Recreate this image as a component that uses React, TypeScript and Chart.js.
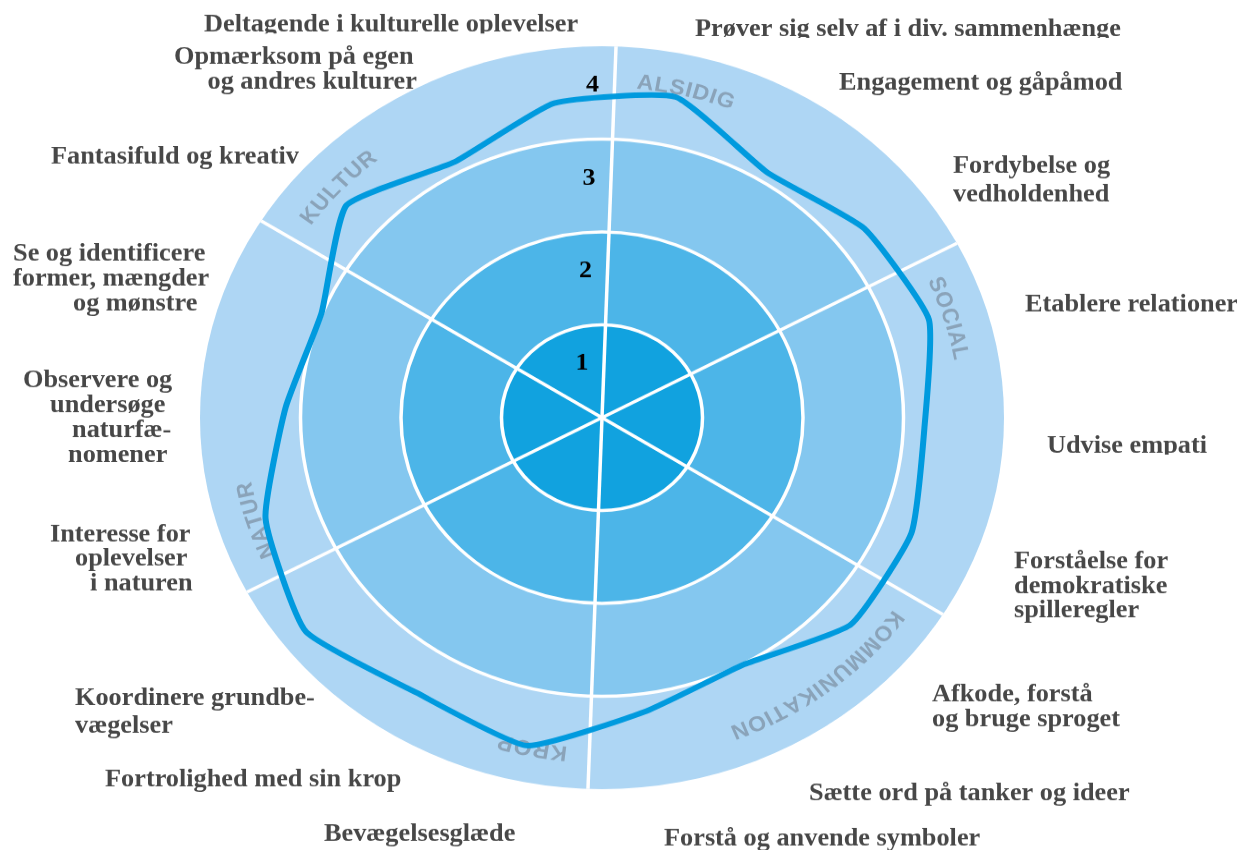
import React, { useEffect, useRef } from "react";
import { Chart, registerables } from "chart.js";

Chart.register(...registerables);

// ---------------- data ----------------
const ITEM_LABELS: string[][] = [
  ["Prøver sig selv af i div. sammenhænge"],
  ["Engagement og gåpåmod"],
  ["Fordybelse og", "vedholdenhed"],
  ["Etablere relationer"],
  ["Udvise empati"],
  ["Forståelse for", "demokratiske", "spilleregler"],
  ["Afkode, forstå", "og bruge sproget"],
  ["Sætte ord på tanker og ideer"],
  ["Forstå og anvende symboler"],
  ["Bevægelsesglæde"],
  ["Fortrolighed med sin krop"],
  ["Koordinere grundbe-", "vægelser"],
  ["Interesse for", "oplevelser", "i naturen"],
  ["Observere og", "undersøge", "naturfæ-", "nomener"],
  ["Se og identificere", "former, mængder", "og mønstre"],
  ["Fantasifuld og kreativ"],
  ["Opmærksom på egen", "og andres kulturer"],
  ["Deltagende i kulturelle oplevelser"],
];

const ITEM_VALUES: number[] = [
  3.53, 3.11, 3.31, 3.42, 3.21, 3.32, 3.33, 3.01, 3.19,
  3.61, 3.49, 3.74, 3.52, 3.15, 3.01, 3.42, 3.12, 3.42,
];

const SECTOR_NAMES: string[] = ["ALSIDIG", "SOCIAL", "KOMMUNIKATION", "KROP", "NATUR", "KULTUR"];

const LEVEL_TICKS: string[] = ["1", "2", "3", "4"];

// ---------------- layout & style ----------------
const W = 1237;
const H = 920;
const SQ = 0.924; // vertical squash of the whole picture
const REF_CX = 602;
const REF_CY = 417.5;
const START_ANGLE = 12;

// label line anchors (left x, baseline y) in page pixels
const LABEL_POS: [number, number][][] = [
  [[695, 36]],
  [[839, 89.3]],
  [[953, 172.7], [953, 201.7]],
  [[1025, 311.7]],
  [[1047, 452.7]],
  [[1014, 567.7], [1014, 592.7], [1014, 616.7]],
  [[932, 701], [932, 726]],
  [[809, 800]],
  [[664, 845]],
  [[324, 841]],
  [[105, 786]],
  [[75, 705], [75, 733]],
  [[50, 541], [75, 565], [90, 590]],
  [[23, 386.7], [50, 411.7], [72, 436.7], [68, 461.7]],
  [[13, 260], [13, 285], [73, 310]],
  [[51, 163.3]],
  [[174, 63.3], [207.5, 88.3]],
  [[204, 31.7]],
];
const CLIPPED_LABELS = [0, 4, 17];

const RING_COLORS = ["#11a2df", "#4cb5e8", "#84c7ef", "#aed6f4"];
const LINE_COLOR = "#009ade";
const SECTOR_COLOR = "#8aa3b9";
const ITEM_COLOR = "#474747";
const ITEM_FONT = "bold 26.3px 'Liberation Serif', 'Times New Roman', serif";
const LEVEL_FONT = "bold 26px 'Liberation Serif', 'Times New Roman', serif";
const SECTOR_FONT = "bold 23px 'Liberation Sans', Arial, sans-serif";

const deg = (d: number) => (d * Math.PI) / 180;

const decorPlugin = {
  id: "decor",
  beforeDraw(chart: any) {
    const s = chart.scales.r;
    const ctx = chart.ctx as CanvasRenderingContext2D;
    ctx.save();
    for (let v = LEVEL_TICKS.length; v >= 1; v--) {
      ctx.beginPath();
      ctx.arc(s.xCenter, s.yCenter, s.getDistanceFromCenterForValue(v), 0, Math.PI * 2);
      ctx.fillStyle = RING_COLORS[v - 1];
      ctx.fill();
    }
    ctx.restore();
  },
  beforeDatasetsDraw(chart: any) {
    const s = chart.scales.r;
    const ctx = chart.ctx as CanvasRenderingContext2D;
    const per = ITEM_VALUES.length / SECTOR_NAMES.length;
    const outer = s.getDistanceFromCenterForValue(LEVEL_TICKS.length);
    ctx.save();
    // sector dividers
    ctx.strokeStyle = "#ffffff";
    ctx.lineWidth = 3.5;
    for (let k = 0; k < SECTOR_NAMES.length; k++) {
      const p = s.getPointPosition(k * per - 0.5, outer);
      ctx.beginPath();
      ctx.moveTo(s.xCenter, s.yCenter);
      ctx.lineTo(p.x, p.y);
      ctx.stroke();
    }
    // sector names along the outer band
    ctx.font = SECTOR_FONT;
    ctx.fillStyle = SECTOR_COLOR;
    ctx.textAlign = "center";
    ctx.textBaseline = "alphabetic";
    const r = s.getDistanceFromCenterForValue(3.56);
    const spacing = 0.8;
    for (let k = 0; k < SECTOR_NAMES.length; k++) {
      let a = s.getIndexAngle(k * per - 0.5) + deg(3.5);
      for (const ch of SECTOR_NAMES[k]) {
        const w = ctx.measureText(ch).width;
        const c = a + w / 2 / r;
        ctx.save();
        ctx.translate(s.xCenter + r * Math.sin(c), s.yCenter - r * Math.cos(c));
        ctx.rotate(c);
        ctx.fillText(ch, 0, 0);
        ctx.restore();
        a += (w + spacing) / r;
      }
    }
    // level numbers
    ctx.font = LEVEL_FONT;
    ctx.fillStyle = "#000000";
    ctx.textBaseline = "middle";
    LEVEL_TICKS.forEach((t, i) => {
      const p = s.getPointPosition(-0.5, s.getDistanceFromCenterForValue(i + 1 - 0.42));
      ctx.fillText(t, p.x - 22, p.y);
    });
    ctx.restore();
  },
  afterDraw(chart: any) {
    const s = chart.scales.r;
    const ctx = chart.ctx as CanvasRenderingContext2D;
    ctx.save();
    ctx.font = ITEM_FONT;
    ctx.fillStyle = ITEM_COLOR;
    ctx.textAlign = "left";
    ctx.textBaseline = "alphabetic";
    ITEM_LABELS.forEach((lines, i) => {
      lines.forEach((line, j) => {
        const [px, py] = LABEL_POS[i][j];
        const x = s.xCenter + (px - REF_CX);
        const y = s.yCenter + (py - REF_CY) / SQ;
        if (CLIPPED_LABELS.includes(i)) {
          ctx.save();
          ctx.beginPath();
          ctx.rect(0, 0, W, y + 1.8);
          ctx.clip();
          ctx.fillText(line, x, y);
          ctx.restore();
        } else {
          ctx.fillText(line, x, y);
        }
      });
    });
    ctx.restore();
  },
};

export default function App() {
  const ref = useRef<HTMLCanvasElement | null>(null);

  useEffect(() => {
    if (!ref.current) return;
    const chart = new Chart(ref.current, {
      type: "radar",
      data: {
        labels: ITEM_LABELS.map((l) => l.join(" ")),
        datasets: [
          {
            data: ITEM_VALUES,
            borderColor: LINE_COLOR,
            backgroundColor: "transparent",
            borderWidth: 6,
            borderJoinStyle: "round",
            pointRadius: 0,
            pointHoverRadius: 0,
            fill: false,
            tension: 0.15,
          },
        ],
      },
      options: {
        responsive: false,
        animation: false,
        events: [],
        layout: { padding: { top: 50, bottom: 66, left: 0, right: 33 } },
        plugins: { legend: { display: false }, tooltip: { enabled: false } },
        scales: {
          r: {
            min: 0,
            max: 4,
            startAngle: START_ANGLE,
            ticks: { display: false, stepSize: 1 },
            pointLabels: { display: false },
            angleLines: { display: false },
            grid: {
              circular: true,
              color: "#ffffff",
              lineWidth: (c: any) => (c.tick && c.tick.value === 4 ? 0 : 3.5),
            },
          },
        },
      } as any,
      plugins: [decorPlugin],
    });
    return () => chart.destroy();
  }, []);

  return (
    <div
      style={{
        position: "fixed",
        left: 0,
        top: 0,
        width: W,
        height: 850,
        overflow: "hidden",
        background: "#ffffff",
      }}
    >
      <div style={{ width: W, height: H, transform: `scaleY(${SQ})`, transformOrigin: "0 0" }}>
        <canvas ref={ref} width={W} height={H} style={{ display: "block", width: W, height: H }} />
      </div>
    </div>
  );
}
